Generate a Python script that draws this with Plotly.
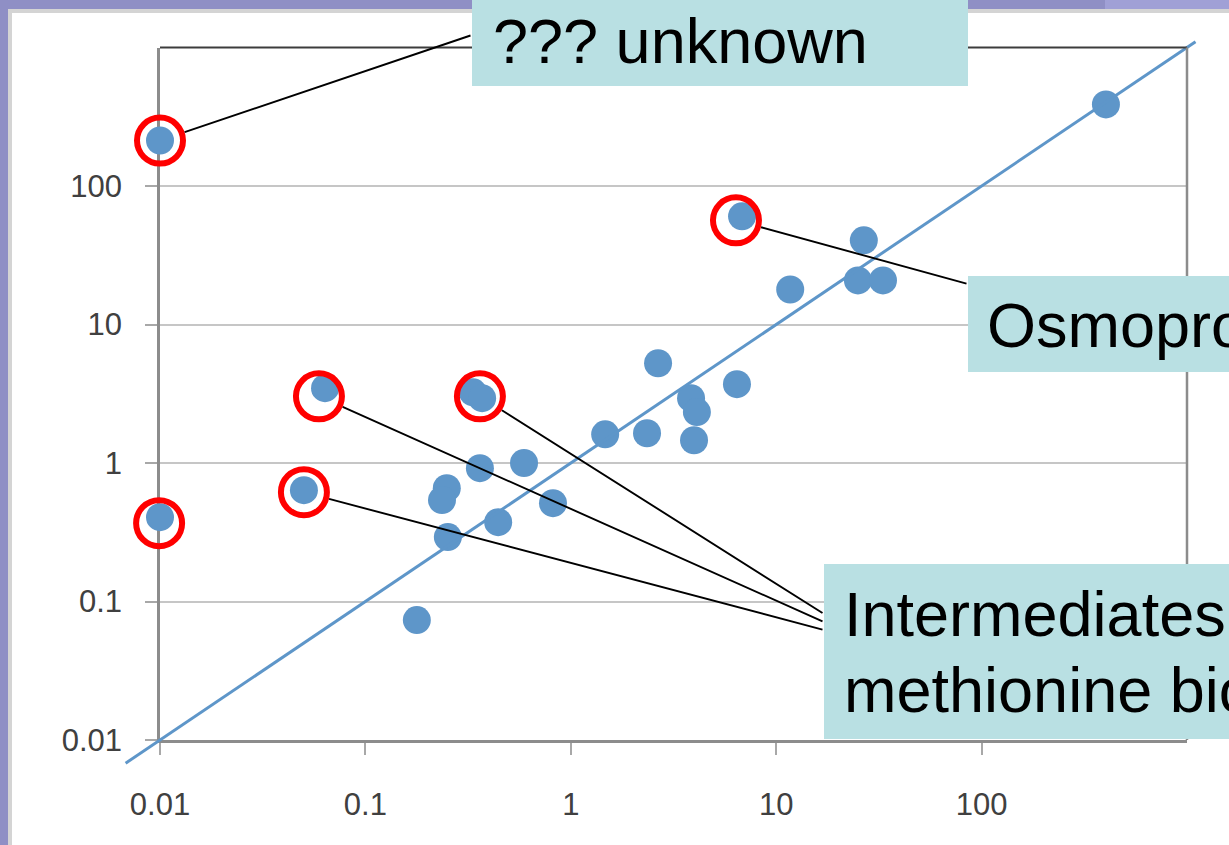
import numpy as np
import plotly.graph_objects as go

# ---------------- data ----------------
x_vals = [0.01, 403, 6.82, 26.7, 25.0, 33.1, 11.7, 2.66, 6.44, 3.85, 4.11, 3.98, 1.47, 2.35,
          0.592, 0.361, 0.819, 0.443, 0.249, 0.236, 0.252, 0.178, 0.0502, 0.0636, 0.334,
          0.370, 0.01]
y_vals = [213, 388, 60.4, 40.5, 20.8, 20.8, 17.9, 5.25, 3.71, 2.94, 2.33, 1.46, 1.61, 1.64,
          1.00, 0.917, 0.513, 0.374, 0.658, 0.540, 0.292, 0.0734, 0.637, 3.47, 3.24,
          2.94, 0.406]

# highlighted (circled) items
ring_x = [0.01, 6.37, 0.0594, 0.361, 0.0502, 0.0099]
ring_y = [213, 56.5, 3.03, 3.03, 0.615, 0.368]

# y = x reference line
diag_vals = [0.0068, 1100]

tick_vals = [0.01, 0.1, 1, 10, 100]
tick_text = ["0.01", "0.1", "1", "10", "100"]

label_unknown = "??? unknown"
label_osmo = "Osmoprotectants"
label_meth = ["Intermediates of", "methionine biosynthesis"]

# ---------------- layout geometry ----------------
W, H = 1229, 845
PL, PR, PT, PB = 160, 1187, 47.5, 740
XR = [-2, 3]
YR = [-2, 3]


def fx(p):
    return p / W


def fy(p):
    return 1 - p / H


def px_x(v):
    return PL + (np.log10(v) - XR[0]) / (XR[1] - XR[0]) * (PR - PL)


def px_y(v):
    return PB - (np.log10(v) - YR[0]) / (YR[1] - YR[0]) * (PB - PT)


dx = (XR[1] - XR[0]) / (PR - PL)
dy = (YR[1] - YR[0]) / (PB - PT)
x2_range = [XR[0] - PL * dx, XR[1] + (W - PR) * dx]
y2_range = [YR[0] - (H - PB) * dy, YR[1] + PT * dy]

BLUE = "#5e96c9"
FONT = "Liberation Sans, Arial, Helvetica, sans-serif"

fig = go.Figure()

fig.add_trace(go.Scatter(
    x=x_vals, y=y_vals, mode="markers", xaxis="x", yaxis="y",
    marker=dict(size=28, color=BLUE, line=dict(width=0)),
    cliponaxis=False, showlegend=False, hoverinfo="skip"))

fig.add_trace(go.Scatter(
    x=diag_vals, y=diag_vals, mode="lines", xaxis="x2", yaxis="y2",
    line=dict(color=BLUE, width=3), showlegend=False, hoverinfo="skip"))

fig.add_trace(go.Scatter(
    x=ring_x, y=ring_y, mode="markers", xaxis="x2", yaxis="y2",
    marker=dict(symbol="circle-open", size=46, color="#ff0000", line=dict(width=6)),
    cliponaxis=False, showlegend=False, hoverinfo="skip"))

axis_common = dict(
    type="log", range=XR, tickmode="array", tickvals=tick_vals, ticktext=tick_text,
    ticks="outside", ticklen=12, tickwidth=2, tickcolor="#a8a8a8",
    showline=True, linecolor="#8c8c8c", linewidth=2.5, zeroline=False,
    tickfont=dict(family=FONT, size=31, color="#404040"),
    automargin=False, layer="below traces", fixedrange=True,
)

shapes = [
    # lighter purple strip on top right
    dict(type="rect", xref="paper", yref="paper", x0=fx(1105), x1=1.05, y0=fy(12), y1=1.05,
         fillcolor="#a0a0d6", line=dict(width=0), layer="below"),
    # white slide panel
    dict(type="rect", xref="paper", yref="paper", x0=fx(10), x1=1.05, y0=-0.05, y1=fy(11),
         fillcolor="white", line=dict(color="#d4d4d4", width=4), layer="below"),
    # top and right frame
    dict(type="line", xref="paper", yref="paper", x0=fx(PL), x1=fx(PR), y0=fy(PT), y1=fy(PT),
         line=dict(color="#3c3c3c", width=2)),
    dict(type="line", xref="paper", yref="paper", x0=fx(PR), x1=fx(PR), y0=fy(PB), y1=fy(PT),
         line=dict(color="#8c8c8c", width=2.5)),
    # label boxes
    dict(type="rect", xref="paper", yref="paper", x0=fx(472), x1=fx(968), y0=fy(86), y1=1.05,
         fillcolor="#b9e0e3", line=dict(width=0)),
    dict(type="rect", xref="paper", yref="paper", x0=fx(968), x1=1.05, y0=fy(372), y1=fy(276),
         fillcolor="#b9e0e3", line=dict(width=0)),
    dict(type="rect", xref="paper", yref="paper", x0=fx(824), x1=1.05, y0=fy(739), y1=fy(564),
         fillcolor="#b9e0e3", line=dict(width=0)),
]

# leader lines (tail positions at the label boxes, in pixels)
tails = [(472, 35), (968, 284), (824, 622), (824, 614), (824, 630), (824, 633)]
annotations = []
for (rx, ry), (tx, ty) in zip(zip(ring_x, ring_y), tails):
    annotations.append(dict(
        x=np.log10(rx), y=np.log10(ry), xref="x", yref="y", text="",
        showarrow=True, arrowhead=0, arrowwidth=1.9, arrowcolor="black",
        ax=tx - px_x(rx), ay=ty - px_y(ry), standoff=26))

label_font = dict(family=FONT, size=63, color="black")
annotations += [
    dict(x=fx(491), y=fy(41), xref="paper", yref="paper", text=label_unknown,
         showarrow=False, xanchor="left", yanchor="middle", font=label_font),
    dict(x=fx(985), y=fy(325), xref="paper", yref="paper", text=label_osmo,
         showarrow=False, xanchor="left", yanchor="middle", font=label_font),
    dict(x=fx(842), y=fy(614), xref="paper", yref="paper", text=label_meth[0],
         showarrow=False, xanchor="left", yanchor="middle", font=label_font),
    dict(x=fx(842), y=fy(690), xref="paper", yref="paper", text=label_meth[1],
         showarrow=False, xanchor="left", yanchor="middle", font=label_font),
]

fig.update_layout(
    width=W, height=H,
    margin=dict(l=0, r=0, t=0, b=0, pad=0),
    paper_bgcolor="#8f8fc5", plot_bgcolor="rgba(0,0,0,0)",
    showlegend=False,
    xaxis=dict(axis_common, domain=[fx(PL), fx(PR)], anchor="y", showgrid=False,
               ticklabelstandoff=23),
    yaxis=dict(axis_common, domain=[fy(PB), fy(PT)], anchor="x", showgrid=True,
               gridcolor="#c6c6c6", gridwidth=2, ticklabelstandoff=17),
    xaxis2=dict(type="log", range=x2_range, domain=[0, 1], anchor="y2", visible=False,
                fixedrange=True),
    yaxis2=dict(type="log", range=y2_range, domain=[0, 1], anchor="x2", visible=False,
                fixedrange=True),
    shapes=shapes,
    annotations=annotations,
)

fig.write_html(
    "out.html",
    config={"displayModeBar": False},
    post_script="document.body.style.margin='0px';document.body.style.overflow='hidden';",
)
